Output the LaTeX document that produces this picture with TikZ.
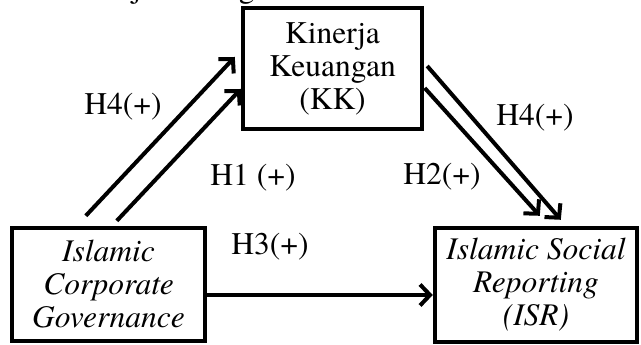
\documentclass[tikz,border=0pt]{standalone}
\usepackage{fontspec}
\setmainfont{texgyretermes}[Extension=.otf,UprightFont=*-regular,ItalicFont=*-italic,BoldFont=*-bold]
\usetikzlibrary{arrows.meta,calc}
\begin{document}
\begin{tikzpicture}[x=1pt,y=1pt,
  box/.style={draw=black,line width=4.4pt,inner sep=0pt,align=center,
    font=\fontsize{31.5}{33}\selectfont},
  lbl/.style={inner sep=0pt,font=\fontsize{31.5}{33}\selectfont},
  arr/.style={line width=4pt,-{Straight Barb[length=10pt,width=21pt,line width=4pt]}}]
\useasboundingbox (0,0) rectangle (641,345);
\begin{scope}
\clip (0,0) rectangle (641,345);
\node[lbl,anchor=base] (frag1) at (137,347) {j};
\node[lbl,anchor=base] (frag2) at (247,347) {g};
\end{scope}
\node[box,minimum width=179pt,minimum height=121pt] (kk) at (332.5,276.5)
  {Kinerja\\Keuangan\\(KK)};
\node[box,minimum width=193pt,minimum height=113pt] (icg) at (108.5,60.5)
  {\itshape Islamic\\\itshape Corporate\\\itshape Governance};
\node[box,minimum width=202pt,minimum height=114pt] (isr) at (536,60)
  {\itshape Islamic Social\\\itshape Reporting\\\itshape (ISR)};
% anchor coordinates
\coordinate (s1) at ($(icg.north west)+(76,10)$);
\coordinate (s2) at ($(icg.north west)+(107,5)$);
\coordinate (e1) at ($(kk.west)+(-6,11.5)$);
\coordinate (e2) at ($(kk.west)+(0,-20.5)$);
\coordinate (r1) at ($(kk.east)+(3,2.5)$);
\coordinate (r2) at ($(kk.east)+(0.5,-19.5)$);
\coordinate (t1) at ($(isr.north west)+(128,6)$);
\coordinate (t2) at ($(isr.north west)+(107,10)$);
\draw[arr] (s1) -- (e1);
\draw[arr] (s2) -- (e2);
\draw[arr] (r1) -- (t1);
\draw[arr] (r2) -- (t2);
\draw[arr] (icg.east |- 0,50) -- (isr.west |- 0,50);
\node[lbl] (h4a) at (123,238) {H4(+)};
\node[lbl] (h1) at (253,167) {H1 (+)};
\node[lbl] (h4b) at (535,227) {H4(+)};
\node[lbl] (h2) at (442,168) {H2(+)};
\node[lbl] (h3) at (270,98) {H3(+)};
\end{tikzpicture}
\end{document}
